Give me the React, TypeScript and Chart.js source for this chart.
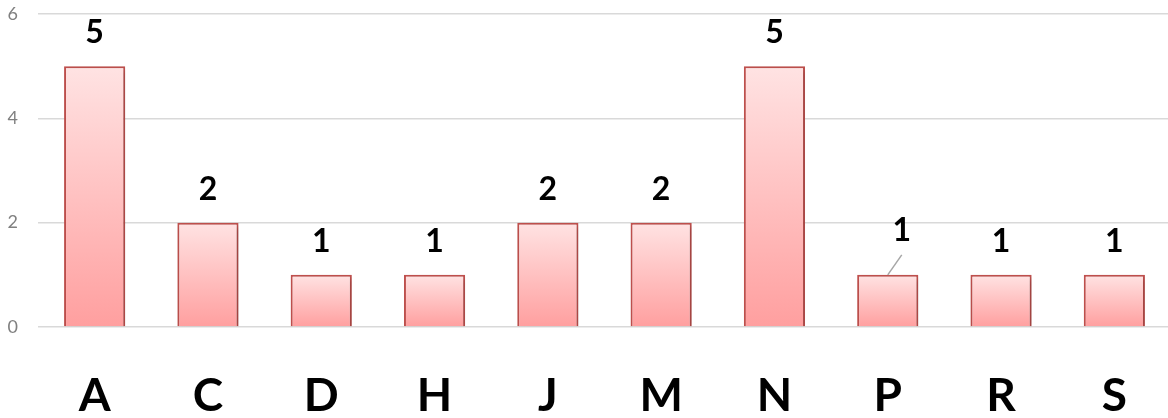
import React, { useEffect, useRef } from "react";
import { Chart, registerables } from "chart.js";

Chart.register(...registerables);

const categories = ["A", "C", "D", "H", "J", "M", "N", "P", "R", "S"];
const counts = [5, 2, 1, 1, 2, 2, 5, 1, 1, 1];
const yTicks = [0, 2, 4, 6];

const FONT = "Lato, 'Open Sans', 'DejaVu Sans', sans-serif";

const shadowPlugin = {
  id: "barShadow",
  beforeDatasetsDraw(chart: any) {
    const ctx = chart.ctx;
    ctx.save();
    ctx.shadowColor = "rgba(0,0,0,0.22)";
    ctx.shadowBlur = 5;
    ctx.shadowOffsetX = 2;
    ctx.shadowOffsetY = 2;
  },
  afterDatasetsDraw(chart: any) {
    chart.ctx.restore();
  },
};

const labelPlugin = {
  id: "valueLabels",
  afterDatasetsDraw(chart: any) {
    const ctx = chart.ctx;
    const meta = chart.getDatasetMeta(0);
    ctx.save();
    ctx.font = `bold 32px ${FONT}`;
    ctx.fillStyle = "#000";
    ctx.textAlign = "center";
    ctx.textBaseline = "middle";
    meta.data.forEach((bar: any, i: number) => {
      const v = chart.data.datasets[0].data[i];
      let x = bar.x;
      let y = bar.y - 33;
      if (categories[i] === "P") {
        const lx = x + 14;
        const ly = y - 11;
        ctx.strokeStyle = "#a6a6a6";
        ctx.lineWidth = 1.5;
        ctx.beginPath();
        ctx.moveTo(x, bar.y);
        ctx.lineTo(x + 14, bar.y - 20);
        ctx.stroke();
        x = lx;
        y = ly;
      }
      ctx.fillText(String(v), x, y);
    });
    ctx.restore();
  },
};

export default function App() {
  const ref = useRef<HTMLCanvasElement | null>(null);

  useEffect(() => {
    document.body.style.margin = "0";
    const canvas = ref.current;
    if (!canvas) return;
    const chart = new Chart(canvas, {
      type: "bar",
      data: {
        labels: categories,
        datasets: [
          {
            data: counts,
            backgroundColor: (c: any) => {
              const ch = c.chart;
              const ys = ch.scales && ch.scales.y;
              if (!ys || c.raw === undefined) return "#ffc0c0";
              const top = ys.getPixelForValue(c.raw);
              const bottom = ys.getPixelForValue(0);
              if (!isFinite(top) || !isFinite(bottom) || top === bottom) return "#ffc0c0";
              const g = ch.ctx.createLinearGradient(0, top, 0, bottom);
              g.addColorStop(0, "#ffe3e3");
              g.addColorStop(1, "#ff9f9f");
              return g;
            },
            borderColor: "#c0504d",
            borderWidth: 2,
            barPercentage: 0.54,
            categoryPercentage: 1,
          },
        ],
      },
      options: {
        animation: false,
        responsive: false,
        maintainAspectRatio: false,
        layout: { padding: { top: 14, left: 0, right: 0, bottom: 0 } },
        plugins: {
          legend: { display: false },
          tooltip: { enabled: false },
        },
        scales: {
          x: {
            grid: { display: false, drawTicks: false },
            border: { display: false },
            ticks: {
              color: "#000",
              font: { family: FONT, size: 46, weight: "bold" },
              padding: 42,
            },
            afterFit: (s: any) => {
              s.height = 91;
              s.paddingLeft = 0;
              s.paddingRight = 0;
            },
          },
          y: {
            min: 0,
            max: 6,
            afterBuildTicks: (s: any) => {
              s.ticks = yTicks.map((v) => ({ value: v }));
            },
            grid: { color: "#d9d9d9", lineWidth: 1.5, drawTicks: false },
            border: { display: false },
            ticks: {
              color: "#808080",
              font: { family: FONT, size: 18 },
              padding: 20,
            },
            afterFit: (s: any) => {
              s.width = 38;
              s.paddingTop = 0;
              s.paddingBottom = 0;
            },
          },
        },
      },
      plugins: [shadowPlugin, labelPlugin],
    });
    return () => chart.destroy();
  }, []);

  return (
    <div style={{ width: 1168, height: 418, overflow: "hidden", position: "relative" }}>
      <canvas ref={ref} width={1171} height={418} style={{ display: "block" }} />
    </div>
  );
}
